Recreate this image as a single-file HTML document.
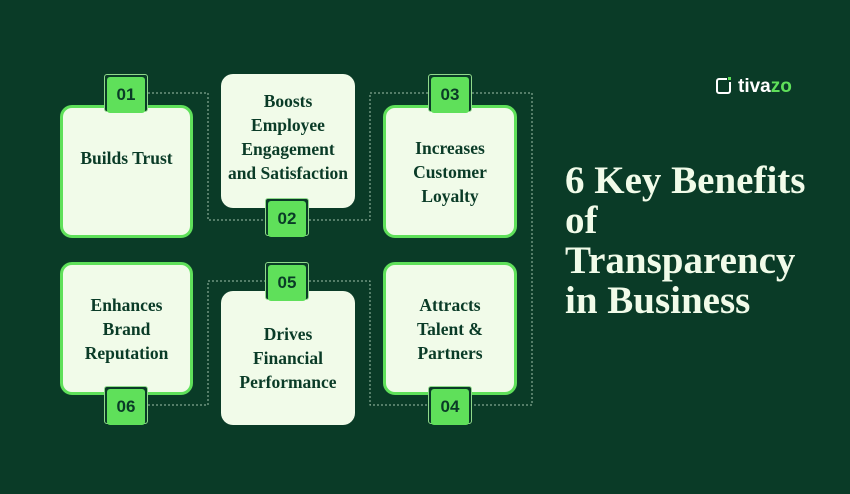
<!DOCTYPE html>
<html><head><style>
body{margin:0;width:850px;height:494px;background:#0a3b27;position:relative;overflow:hidden;font-family:"Liberation Serif",serif}
.card{position:absolute;background:#f1fbe9;border-radius:12px;display:flex;align-items:center;justify-content:center;text-align:center;color:#0a3b27;font-weight:bold;font-size:17.5px;line-height:24px;box-sizing:border-box}
.b{border:3px solid #5fe05a}
.badge{position:absolute;width:44px;height:38px;box-sizing:border-box;border:1px solid #8fd98a;border-radius:3px;background:#0a3b27}
.badge span{position:absolute;left:2px;top:2px;width:38px;height:36px;background:#5fe05a;border-radius:3px;font-family:"Liberation Sans",sans-serif;font-weight:bold;font-size:17px;color:#0a3b27;display:flex;align-items:center;justify-content:center}
.title{position:absolute;left:565px;top:161px;color:#f1fbe9;font-size:39px;font-weight:bold;line-height:40px}
</style></head><body>
<svg width="850" height="494" style="position:absolute;left:0;top:0">
<g fill="none" stroke="#9fbfa8" stroke-width="1" stroke-dasharray="2,2">
<polyline points="148,93 208,93 208,220 266,220"/>
<polyline points="309,220 370,220 370,93 429,93"/>
<polyline points="472,93 532,93 532,405 472,405"/>
<polyline points="148,405 208,405 208,281 266,281"/>
<polyline points="309,281 370,281 370,405 429,405"/>
</g></svg>
<div class="card b" style="left:60px;top:105px;width:133px;height:133px;padding-bottom:28px">Builds Trust</div>
<div class="card" style="left:221px;top:74px;width:134px;height:134px;padding-bottom:8px">Boosts<br>Employee<br>Engagement<br>and Satisfaction</div>
<div class="card b" style="left:383px;top:105px;width:134px;height:133px">Increases<br>Customer<br>Loyalty</div>
<div class="card b" style="left:60px;top:262px;width:133px;height:133px">Enhances<br>Brand<br>Reputation</div>
<div class="card" style="left:221px;top:291px;width:134px;height:134px">Drives<br>Financial<br>Performance</div>
<div class="card b" style="left:383px;top:262px;width:134px;height:133px">Attracts<br>Talent &amp;<br>Partners</div>
<div class="badge" style="left:104px;top:74px"><span>01</span></div>
<div class="badge" style="left:265px;top:198px"><span>02</span></div>
<div class="badge" style="left:428px;top:74px"><span>03</span></div>
<div class="badge" style="left:428px;top:386px"><span>04</span></div>
<div class="badge" style="left:265px;top:262px"><span>05</span></div>
<div class="badge" style="left:104px;top:386px"><span>06</span></div>
<div class="title">6 Key Benefits<br>of<br>Transparency<br>in Business</div>
<div style="position:absolute;left:716px;top:78px;width:15px;height:16px;border:2px solid #fff;border-radius:3px;box-sizing:border-box"></div>
<div style="position:absolute;left:727px;top:76px;width:6px;height:6px;background:#0a3b27"></div>
<div style="position:absolute;left:728px;top:77px;width:3px;height:3px;background:#5fe05a"></div>
<div style="position:absolute;left:738px;top:76px;font-family:'Liberation Sans',sans-serif;font-weight:bold;font-size:19px;color:#fff">tiva<span style="color:#5fe05a">zo</span></div>
</body></html>
